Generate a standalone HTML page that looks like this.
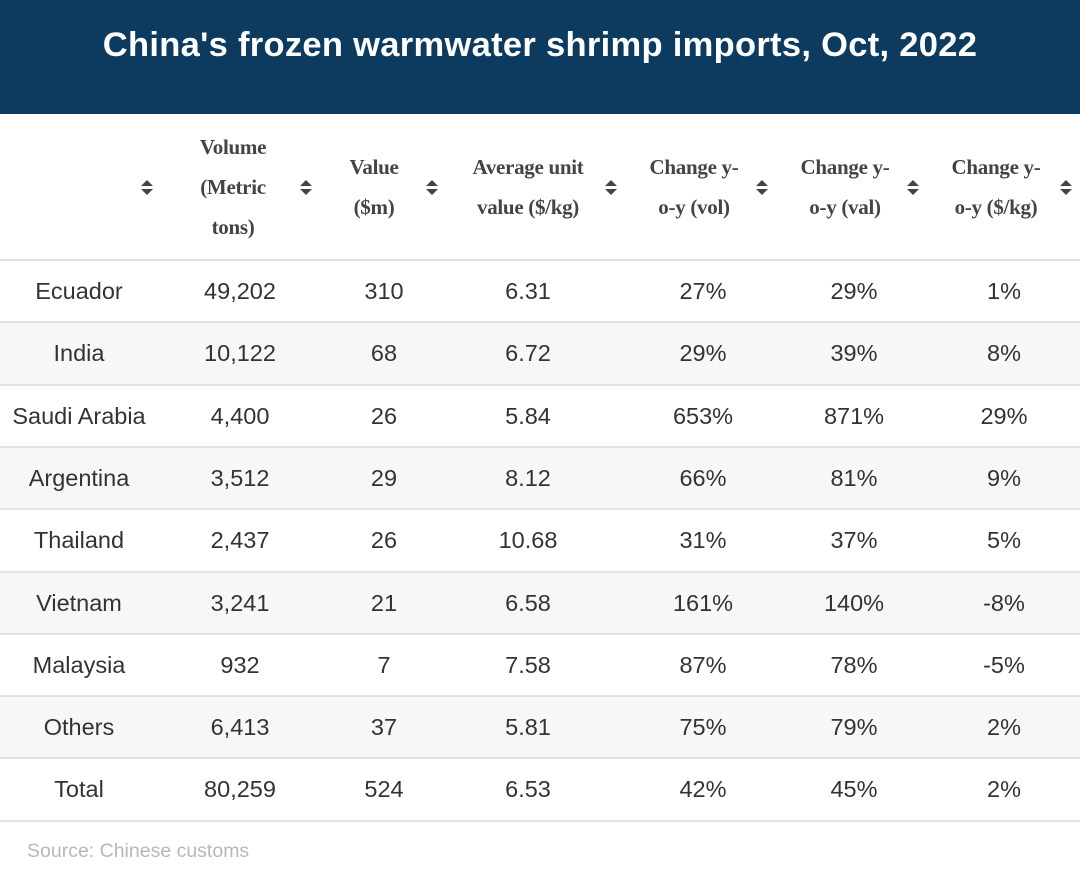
<!DOCTYPE html>
<html><head><style>
body{margin:0;width:1080px;height:875px;background:#fff;position:relative;overflow:hidden;font-family:"Liberation Sans",sans-serif}
.title{position:absolute;left:0;top:0;width:1080px;height:114px;background:#0d3b5f;color:#fff;font-size:34.5px;font-weight:bold;text-align:center;line-height:90px;letter-spacing:0.3px}
.h{position:absolute;font-family:"Liberation Serif",serif;font-weight:bold;font-size:21px;color:#444;text-align:center;line-height:40px;transform:translateX(-50%);white-space:nowrap;letter-spacing:-0.3px}
.s{position:absolute;width:0;height:0}
.s:before,.s:after{content:"";position:absolute;left:-6px;border-left:6px solid transparent;border-right:6px solid transparent}
.s:before{top:-8px;border-bottom:6px solid #444}
.s:after{top:1px;border-top:6px solid #444}
.row{position:absolute;left:0;width:1080px;height:61px;border-top:2px solid #e2e2e2}
.row.g{background:#f7f7f7}
.c{position:absolute;top:0;line-height:61px;font-size:23.5px;color:#333;transform:translateX(-50%);white-space:nowrap}
.src{position:absolute;left:27px;top:840px;font-size:19.5px;color:#b8b8b8}
</style></head><body>
<div class="title">China's frozen warmwater shrimp imports, Oct, 2022</div>
<div class="h" style="left:233px;top:127px">Volume<br>(Metric<br>tons)</div>
<div class="h" style="left:374px;top:147px">Value<br>($m)</div>
<div class="h" style="left:528px;top:147px">Average unit<br>value ($/kg)</div>
<div class="h" style="left:694px;top:147px">Change y-<br>o-y (vol)</div>
<div class="h" style="left:845px;top:147px">Change y-<br>o-y (val)</div>
<div class="h" style="left:996px;top:147px">Change y-<br>o-y ($/kg)</div>
<div class="s" style="left:147px;top:188px"></div>
<div class="s" style="left:306px;top:188px"></div>
<div class="s" style="left:432px;top:188px"></div>
<div class="s" style="left:611px;top:188px"></div>
<div class="s" style="left:762px;top:188px"></div>
<div class="s" style="left:913px;top:188px"></div>
<div class="s" style="left:1066px;top:188px"></div>
<div id="rows"></div>
<div class="row" style="top:820px;height:0"></div>
<div class="src">Source: Chinese customs</div>
<script>
var d=[["Ecuador","49,202","310","6.31","27%","29%","1%"],["India","10,122","68","6.72","29%","39%","8%"],["Saudi Arabia","4,400","26","5.84","653%","871%","29%"],["Argentina","3,512","29","8.12","66%","81%","9%"],["Thailand","2,437","26","10.68","31%","37%","5%"],["Vietnam","3,241","21","6.58","161%","140%","-8%"],["Malaysia","932","7","7.58","87%","78%","-5%"],["Others","6,413","37","5.81","75%","79%","2%"],["Total","80,259","524","6.53","42%","45%","2%"]];
var x=[79,240,384,528,703,854,1004],h="";
d.forEach(function(r,i){h+='<div class="row'+(i%2?' g':'')+'" style="top:'+(259+i*62.3)+'px">';r.forEach(function(v,j){h+='<div class="c" style="left:'+x[j]+'px">'+v+'</div>'});h+='</div>'});
document.getElementById('rows').innerHTML=h;
</script>
</body></html>
